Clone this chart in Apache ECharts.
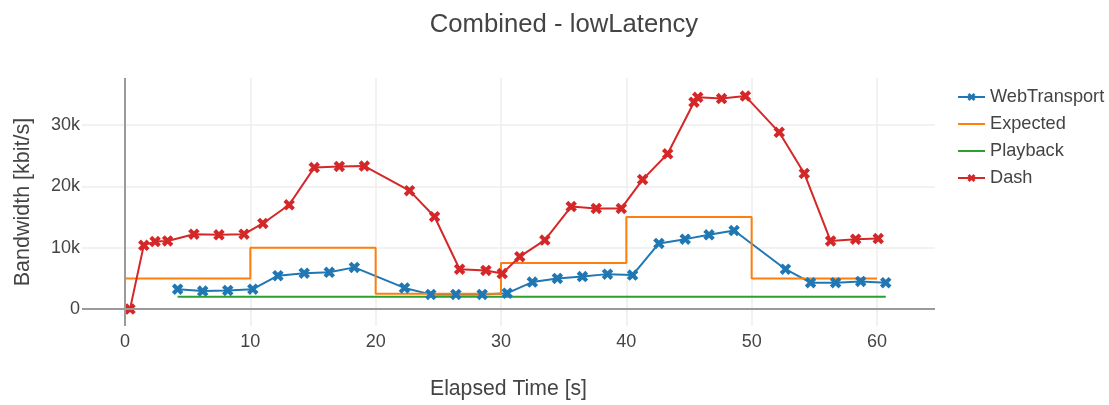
<!DOCTYPE html>
<html>
<head>
<meta charset="utf-8">
<script src="https://cdn.jsdelivr.net/npm/echarts@6/dist/echarts.min.js"></script>
<style>
  html, body { margin: 0; padding: 0; background: #fff; }
  #chart { width: 1109px; height: 405px; }
</style>
</head>
<body>
<div id="chart"></div>
<script>
// Tick positions
const xTicks = [0, 10, 20, 30, 40, 50, 60];
const yTicks = [0, 10000, 20000, 30000];

// WebTransport measured bandwidth (time s, kbit/s)
const wtTime = [4.2, 6.2, 8.2, 10.2, 12.2, 14.3, 16.3, 18.3, 22.3, 24.4, 26.4, 28.5, 30.5, 32.5, 34.5, 36.5, 38.5, 40.5, 42.6, 44.7, 46.6, 48.6, 52.7, 54.7, 56.7, 58.7, 60.7];
const wtRate = [3250, 2950, 3050, 3250, 5450, 5850, 6000, 6800, 3450, 2400, 2400, 2400, 2600, 4400, 5000, 5300, 5700, 5550, 10700, 11400, 12100, 12800, 6500, 4300, 4300, 4500, 4300];

// Expected bandwidth profile (step changes)
const expTime = [0, 10, 20, 30, 40, 50, 60];
const expRate = [5000, 10000, 2500, 7500, 15000, 5000, 5000];

// Playback bitrate
const playTime = [4.2, 60.7];
const playRate = [2000, 2000];

// Dash measured bandwidth
const dashTime = [0.4, 1.5, 2.4, 3.4, 5.5, 7.5, 9.5, 11.0, 13.1, 15.1, 17.1, 19.1, 22.7, 24.7, 26.7, 28.8, 30.1, 31.5, 33.5, 35.6, 37.6, 39.6, 41.3, 43.3, 45.4, 45.7, 47.6, 49.5, 52.2, 54.2, 56.3, 58.3, 60.1];
const dashRate = [0, 10400, 11000, 11100, 12200, 12100, 12200, 13950, 17000, 23050, 23250, 23300, 19300, 15050, 6500, 6300, 5800, 8550, 11250, 16700, 16400, 16400, 21100, 25300, 33700, 34500, 34300, 34700, 28800, 22100, 11100, 11400, 11500];

// Thick "x" marker and a plain line icon for the legend
const X_MARK = 'path://M2,3L3,4L4,3L3,2L4,1L3,0L2,1L1,0L0,1L1,2L0,3L1,4Z';
const LINE_ICON = 'path://M0,0H27V2H0Z';
const FONT = "'Liberation Sans', Arial, sans-serif";
const TEXT = '#444';

const pairs = (t, v) => t.map((x, i) => [x, v[i]]);

const chart = echarts.init(document.getElementById('chart'), null, { renderer: 'canvas' });

const lineSeries = (name, color, data, extra) => Object.assign({
  name: name,
  type: 'line',
  data: data,
  lineStyle: { width: 2, color: color },
  itemStyle: { color: color },
  emphasis: { disabled: true },
  silent: true,
  z: 3
}, extra);

chart.setOption({
  animation: false,
  textStyle: { fontFamily: FONT },
  title: {
    text: 'Combined - lowLatency',
    left: 559,
    top: 7,
    textAlign: 'center',
    textStyle: { fontSize: 25.7, fontWeight: 'normal', color: TEXT, fontFamily: FONT }
  },
  legend: {
    orient: 'vertical',
    left: 952,
    top: 83,
    itemWidth: 27,
    itemHeight: 10,
    itemGap: 9,
    symbolKeepAspect: true,
    data: [
      'WebTransport',
      { name: 'Expected', icon: LINE_ICON },
      { name: 'Playback', icon: LINE_ICON },
      'Dash'
    ],
    textStyle: { fontSize: 18.2, color: TEXT, lineHeight: 18, fontFamily: FONT }
  },
  grid: { left: 82, right: 174, top: 78, bottom: 78 },
  xAxis: {
    type: 'value',
    min: -3.43,
    max: 64.63,
    name: 'Elapsed Time [s]',
    nameLocation: 'middle',
    nameGap: 53,
    nameTextStyle: { fontSize: 21.2, color: TEXT, fontFamily: FONT },
    axisLine: { show: false },
    axisTick: { show: false, customValues: xTicks },
    axisLabel: { customValues: xTicks, fontSize: 18, color: TEXT, margin: 7, fontFamily: FONT },
    splitLine: { show: true, lineStyle: { color: '#eee', width: 1.5 } }
  },
  yAxis: {
    type: 'value',
    min: -2750,
    max: 37650,
    name: 'Bandwidth [kbit/s]',
    nameLocation: 'middle',
    nameGap: 48,
    nameTextStyle: { fontSize: 21.5, color: TEXT, fontFamily: FONT },
    axisLine: { show: false },
    axisTick: { show: false, customValues: yTicks },
    axisLabel: {
      customValues: yTicks,
      fontSize: 18,
      color: TEXT,
      margin: 2,
      fontFamily: FONT,
      formatter: v => (v === 0 ? '0' : (v / 1000) + 'k')
    },
    splitLine: { show: true, lineStyle: { color: '#eee', width: 1.5 } }
  },
  series: [
    {
      name: 'zero',
      type: 'line',
      data: [],
      silent: true,
      z: 1,
      markLine: {
        silent: true,
        symbol: 'none',
        label: { show: false },
        emphasis: { disabled: true },
        lineStyle: { color: '#9a9a9a', width: 2, type: 'solid' },
        data: [{ xAxis: 0 }, { yAxis: 0 }]
      }
    },
    lineSeries('WebTransport', '#1f77b4', pairs(wtTime, wtRate), {
      symbol: X_MARK, symbolSize: 11.5, showAllSymbol: true
    }),
    lineSeries('Expected', '#ff7f0e', pairs(expTime, expRate), {
      step: 'end', symbol: 'none', showSymbol: false
    }),
    lineSeries('Playback', '#2ca02c', pairs(playTime, playRate), {
      symbol: 'none', showSymbol: false
    }),
    lineSeries('Dash', '#d62728', pairs(dashTime, dashRate), {
      symbol: X_MARK, symbolSize: 11.5, showAllSymbol: true
    })
  ]
});
</script>
</body>
</html>
